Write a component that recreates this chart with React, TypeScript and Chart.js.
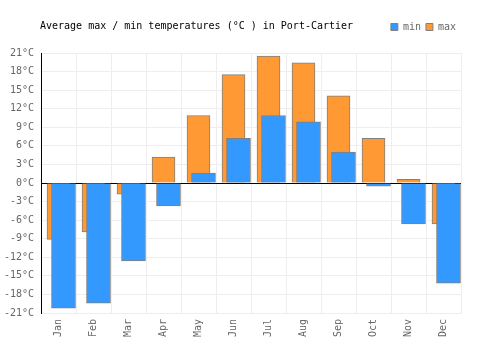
import React, { useEffect, useRef } from "react";
import { Chart, registerables } from "chart.js";

Chart.register(...registerables);

const TITLE = "Average max / min temperatures (°C ) in Port-Cartier";
const MONTHS = ["Jan", "Feb", "Mar", "Apr", "May", "Jun", "Jul", "Aug", "Sep", "Oct", "Nov", "Dec"];
const MIN_TEMPS = [-20.2, -19.4, -12.6, -3.7, 1.6, 7.2, 10.9, 9.9, 5.0, -0.5, -6.6, -16.2];
const MAX_TEMPS = [-9.1, -7.9, -1.8, 4.2, 10.9, 17.5, 20.5, 19.4, 14.1, 7.2, 0.6, -6.6];
const Y_MIN = -21;
const Y_MAX = 21;
const Y_STEP = 3;

const FONT = "'DejaVu Sans Mono', monospace";
const BLUE = "#3399ff";
const ORANGE = "#ff9933";
const BORDER = "#808080";
const MIN_SHIFT = 5 / 35; // blue bar offset within its month slot (fraction of a category)

const titlePlugin = {
  id: "leftTitle",
  afterDraw(chart: any) {
    const ctx = chart.ctx;
    ctx.save();
    ctx.font = `10px ${FONT}`;
    ctx.fillStyle = "#000";
    ctx.textBaseline = "middle";
    ctx.textAlign = "left";
    ctx.fillText(TITLE, 40, 26);
    ctx.restore();
  },
};

export default function App() {
  const ref = useRef<HTMLCanvasElement | null>(null);
  useEffect(() => {
    if (!ref.current) return;
    const chart = new Chart(ref.current, {
      type: "bar",
      data: {
        labels: MONTHS,
        datasets: [
          {
            label: "min",
            data: MIN_TEMPS.map((v, i) => ({ x: i, y: v })) as any,
            xAxisID: "x2",
            backgroundColor: BLUE,
            borderColor: BORDER,
            borderWidth: 1,
            barThickness: 24,
            grouped: false,
          },
          {
            label: "max",
            data: MAX_TEMPS,
            xAxisID: "x",
            backgroundColor: ORANGE,
            borderColor: BORDER,
            borderWidth: 1,
            barThickness: 23,
            grouped: false,
          },
        ],
      },
      plugins: [titlePlugin],
      options: {
        animation: false,
        responsive: true,
        maintainAspectRatio: false,
        layout: { padding: { top: 17, right: 39, bottom: 0, left: 0 } },
        plugins: {
          // empty title used only as a spacer below the legend
          title: {
            display: true,
            text: "",
            weight: 500,
            padding: 0,
            font: { size: 11, lineHeight: 1 },
          },
          tooltip: { enabled: false },
          legend: {
            position: "top",
            align: "end",
            labels: {
              boxWidth: 7,
              boxHeight: 7,
              color: "#666",
              font: { family: FONT, size: 10 },
              padding: 5,
            },
          },
        },
        scales: {
          x: {
            type: "category",
            offset: true,
            grid: { offset: true, color: "#eeeeee", drawTicks: false },
            border: { color: "#eeeeee" },
            ticks: {
              color: "#666",
              font: { family: FONT, size: 10 },
              minRotation: 90,
              maxRotation: 90,
              padding: 6,
            },
            afterFit(scale: any) {
              scale.height = 37;
            },
          },
          x2: {
            type: "linear",
            display: false,
            offset: false,
            min: -0.5 - MIN_SHIFT,
            max: 11.5 - MIN_SHIFT,
          },
          y: {
            min: Y_MIN,
            max: Y_MAX,
            ticks: {
              stepSize: Y_STEP,
              color: "#666",
              font: { family: FONT, size: 10 },
              padding: 7,
              callback: (v: any) => `${v}°C`,
            },
            grid: {
              drawTicks: false,
              color: (c: any) => (c.tick && c.tick.value === 0 ? "#000" : "#eeeeee"),
            },
            border: { color: "#000" },
            afterFit(scale: any) {
              scale.width = 41;
            },
          },
        },
      },
    });
    return () => chart.destroy();
  }, []);
  return (
    <div style={{ position: "fixed", left: 0, top: 0, width: 500, height: 350, background: "#fff" }}>
      <canvas ref={ref} />
    </div>
  );
}
